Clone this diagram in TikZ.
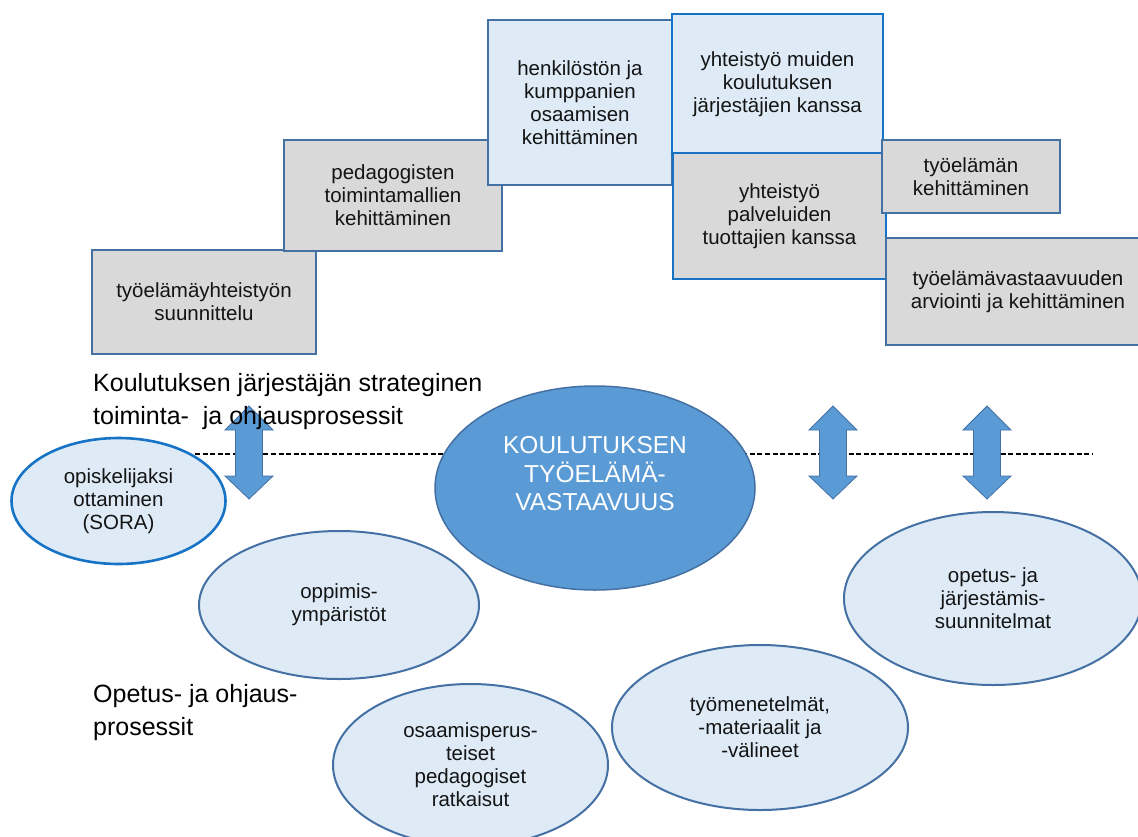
\documentclass[tikz,border=0pt]{standalone}
\usepackage{fontspec}
\setmainfont{Liberation Sans}
\usetikzlibrary{shapes.geometric}
\definecolor{grayfill}{RGB}{217,217,217}
\definecolor{lightfill}{RGB}{222,235,247}
\definecolor{steel}{RGB}{68,112,163}
\definecolor{bright}{RGB}{22,115,198}
\definecolor{midblue}{RGB}{91,155,213}
\definecolor{txt}{RGB}{20,20,20}
\newcommand{\boxfont}{\fontsize{20.5}{23}\selectfont}
\newcommand{\headfont}{\fontsize{25}{33}\selectfont}
\newcommand{\corefont}{\fontsize{24.5}{28.5}\selectfont}
\begin{document}
\begin{tikzpicture}[x=1pt,y=-1pt,
  boxbase/.style={draw=steel, line width=2pt, align=center, inner sep=2pt, font=\boxfont, text=txt},
  graybox/.style={boxbase, fill=grayfill},
  bluebox/.style={boxbase, fill=lightfill},
  brightedge/.style={draw=bright, line width=2.6pt},
  oval/.style={ellipse, draw=steel, line width=2pt, fill=lightfill, align=center, inner sep=0pt, font=\boxfont, text=txt},
  coreoval/.style={ellipse, draw=steel, line width=1.5pt, fill=midblue, inner sep=0pt},
  coretext/.style={align=center, font=\corefont, text=white, inner sep=0pt},
  updown/.style={fill=midblue, draw=steel, line width=0.8pt, line join=miter},
  heading/.style={align=left, anchor=west, font=\headfont, inner sep=0pt, text=black},
  divider/.style={dash pattern=on 5pt off 2.6pt, line width=1.5pt, black}
]
\useasboundingbox (0,0) rectangle (1138,836);
\clip (0,0) rectangle (1138,836);

% upper boxes
\node[graybox, minimum width=224pt, minimum height=104pt] (b1) at (204,302) {työelämäyhteistyön\\suunnittelu};
\node[graybox, minimum width=218pt, minimum height=111pt] (b2) at (393,195.5) {pedagogisten\\toimintamallien\\kehittäminen};
\node[bluebox, minimum width=184pt, minimum height=165pt] (b3) at (580,102.5) {henkilöstön ja\\kumppanien\\osaamisen\\kehittäminen};
\node[bluebox, brightedge, minimum width=211pt, minimum height=140pt] (b4) at (777.5,84) {yhteistyö muiden\\koulutuksen\\järjestäjien kanssa};
\node[graybox, brightedge, minimum width=213pt, minimum height=126pt] (b5) at (779.5,216) {yhteistyö\\palveluiden\\tuottajien kanssa};
\node[graybox, minimum width=178pt, minimum height=73pt] (b6) at (971,176.5) {työelämän\\kehittäminen};
\node[graybox, minimum width=264pt, minimum height=107pt] (b7) at (1018,291.5) {työelämävastaavuuden\\arviointi ja kehittäminen};

% dashed divider
\coordinate (dl) at (195,454);
\coordinate (dr) at (1093,454);
\draw[divider] (dl) -- (dr);

% double arrows
\foreach \cx in {249,833,987} {
  \draw[updown] (\cx,406) -- (\cx+24,430) -- (\cx+13.5,430) -- (\cx+13.5,476) -- (\cx+24,476)
    -- (\cx,499) -- (\cx-24,476) -- (\cx-13.5,476) -- (\cx-13.5,430) -- (\cx-24,430) -- cycle;
}

% headings
\node[heading] (h1) at (93,402) {Koulutuksen järjestäjän strateginen\\toiminta-\ \ ja ohjausprosessit};
\node[heading] (h2) at (93,713) {Opetus- ja ohjaus-\\prosessit};

% central ellipse
\node[coreoval, minimum width=320pt, minimum height=204pt] (core) at (595,488) {};
\node[coretext] (coretxt) at (595,474) {KOULUTUKSEN\\TYÖELÄMÄ-\\VASTAAVUUS};

% lower ellipses
\node[oval, minimum width=280pt, minimum height=148pt] (e2) at (339,605) {oppimis-\\ympäristöt};
\node[oval, draw=bright, line width=2.6pt, minimum width=214pt, minimum height=126pt] (e1) at (118.5,501) {opiskelijaksi\\ottaminen\\(SORA)};
\node[oval, minimum width=275pt, minimum height=162pt] (e3) at (470.5,765) {osaamisperus-\\teiset\\pedagogiset\\ratkaisut};
\node[oval, minimum width=296pt, minimum height=165pt] (e4) at (760,727.5) {työmenetelmät,\\-materiaalit ja\\-välineet};
\node[oval, minimum width=298pt, minimum height=173pt] (e5) at (993,598.5) {opetus- ja\\järjestämis-\\suunnitelmat};
\end{tikzpicture}
\end{document}
